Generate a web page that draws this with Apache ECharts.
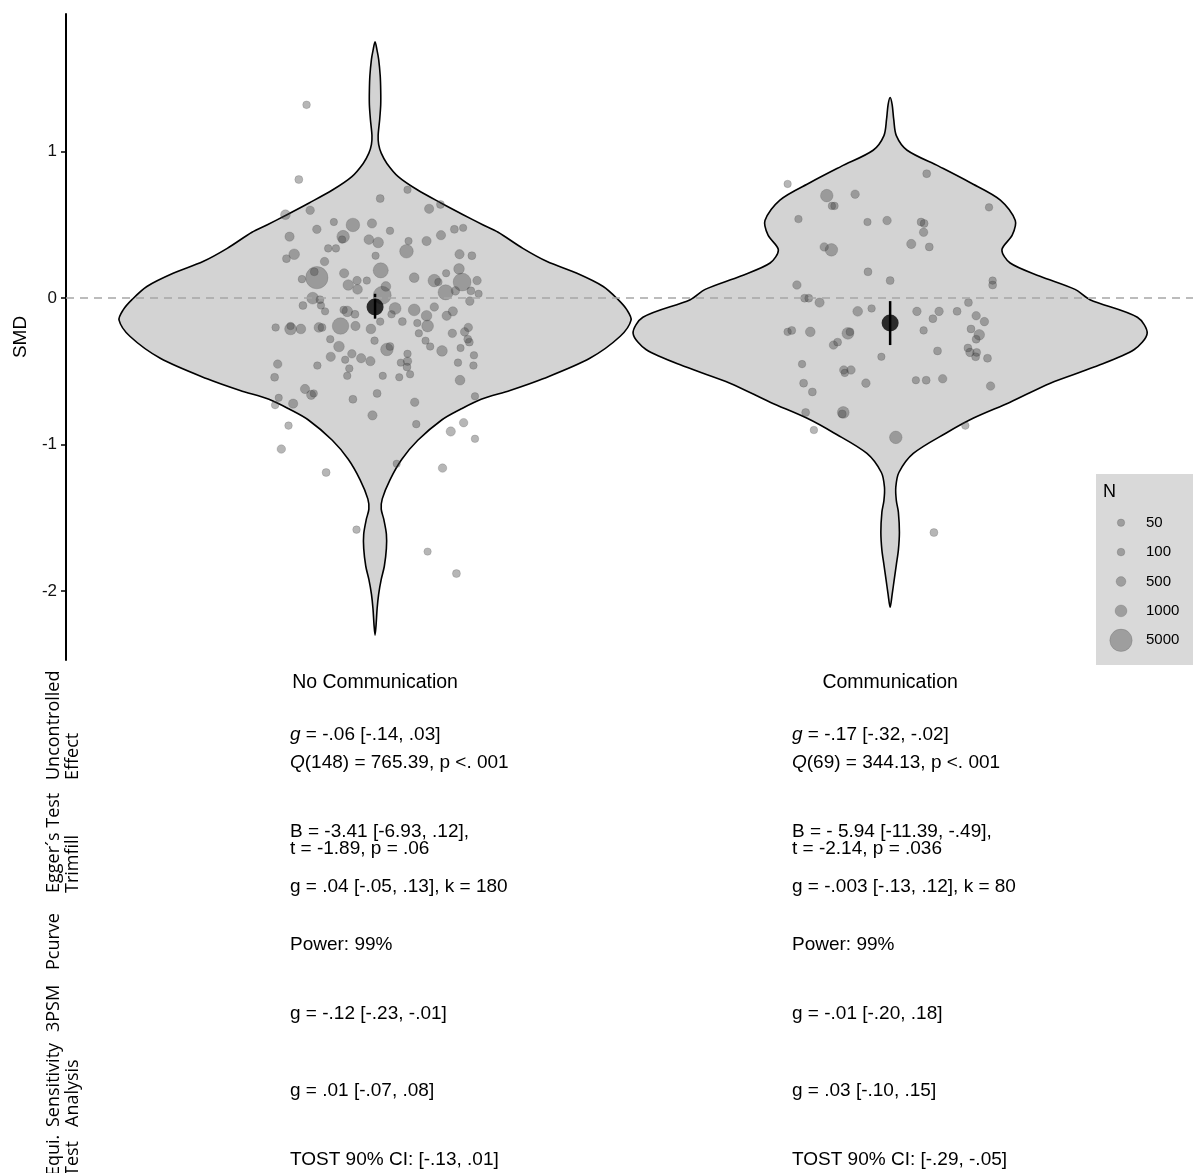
<!DOCTYPE html>
<html>
<head>
<meta charset="utf-8">
<script src="https://cdn.jsdelivr.net/npm/echarts@6/dist/echarts.min.js"></script>
<style>
  html, body { margin: 0; padding: 0; background: #fff; }
  #main { width: 1193px; height: 1173px; }
</style>
</head>
<body>
<div id="main"></div>
<script>
// groups on the x axis
var groups = ['No Communication', 'Communication'];

// pooled effects (mean + 95% CI) per group
var groupMean = [-0.06, -0.17];
var groupLow = [-0.14, -0.32];
var groupHigh = [0.03, -0.02];

// y tick labels
var yTicks = [-2, -1, 0, 1];

// violin outlines: SMD value and half width (in category units)
var noCommViolinY = [1.75, 1.69, 1.63, 1.52, 1.42, 1.32, 1.22, 1.11, 1.05, 0.99, 0.92, 0.83, 0.74, 0.65, 0.57, 0.50, 0.45, 0.34, 0.25, 0.17, 0.08, -0.01, -0.08, -0.15, -0.26, -0.41, -0.55, -0.63, -0.69, -0.76, -0.83, -0.97, -1.10, -1.24, -1.37, -1.44, -1.51, -1.61, -1.71, -1.83, -1.92, -2.02, -2.12, -2.23, -2.30];
var noCommViolinW = [0, 0.004, 0.007, 0.010, 0.011, 0.011, 0.009, 0.006, 0.007, 0.012, 0.023, 0.045, 0.082, 0.128, 0.171, 0.210, 0.239, 0.287, 0.334, 0.392, 0.443, 0.472, 0.489, 0.497, 0.476, 0.417, 0.326, 0.262, 0.206, 0.165, 0.130, 0.083, 0.052, 0.029, 0.014, 0.012, 0.017, 0.022, 0.022, 0.018, 0.012, 0.007, 0.004, 0.002, 0];
var commViolinY = [1.37, 1.32, 1.22, 1.11, 1.01, 0.90, 0.79, 0.67, 0.53, 0.43, 0.33, 0.24, 0.15, 0.06, -0.01, -0.13, -0.24, -0.35, -0.47, -0.58, -0.71, -0.82, -0.92, -1.06, -1.19, -1.29, -1.38, -1.46, -1.60, -1.72, -1.82, -1.92, -2.02, -2.11];
var commViolinW = [0, 0.004, 0.007, 0.012, 0.033, 0.095, 0.155, 0.214, 0.243, 0.237, 0.217, 0.233, 0.291, 0.359, 0.388, 0.480, 0.499, 0.474, 0.396, 0.311, 0.233, 0.161, 0.109, 0.045, 0.017, 0.011, 0.012, 0.016, 0.018, 0.016, 0.012, 0.008, 0.004, 0];

// single studies: [jitter, SMD, N]
var noCommPoints = [
  [-0.133, 1.32, 100], [-0.148, 0.81, 150], [0.063, 0.74, 60], [0.010, 0.68, 150], [0.105, 0.61, 400],
  [0.127, 0.64, 150], [-0.174, 0.57, 500], [-0.126, 0.60, 250], [-0.080, 0.52, 50], [-0.043, 0.50, 1500],
  [-0.006, 0.51, 400], [0.029, 0.46, 80], [-0.113, 0.47, 250], [-0.166, 0.42, 400], [-0.062, 0.42, 1200],
  [-0.064, 0.40, 80], [-0.012, 0.40, 500], [0.006, 0.38, 700], [0.065, 0.39, 50], [0.100, 0.39, 400],
  [0.128, 0.43, 400], [0.154, 0.47, 150], [0.171, 0.48, 60], [-0.091, 0.34, 80], [-0.076, 0.34, 80],
  [0.061, 0.32, 1500], [-0.157, 0.30, 700], [-0.172, 0.27, 150], [0.001, 0.29, 50], [0.164, 0.30, 400],
  [0.188, 0.29, 150], [-0.098, 0.25, 250], [0.011, 0.19, 2000], [-0.113, 0.14, 5000], [-0.118, 0.18, 150],
  [-0.142, 0.13, 80], [-0.060, 0.17, 400], [0.076, 0.14, 500], [0.115, 0.12, 1200], [0.123, 0.11, 80],
  [0.138, 0.17, 50], [0.163, 0.20, 700], [0.169, 0.11, 3000], [0.198, 0.12, 250], [-0.052, 0.09, 700],
  [-0.035, 0.12, 250], [-0.016, 0.12, 60], [-0.034, 0.06, 500], [0.021, 0.08, 500], [0.014, 0.02, 3000],
  [0.137, 0.04, 2000], [0.156, 0.05, 250], [0.186, 0.05, 150], [0.201, 0.03, 60], [-0.121, 0.00, 1000],
  [-0.107, -0.01, 150], [-0.140, -0.05, 150], [-0.105, -0.05, 60], [-0.097, -0.09, 60], [-0.061, -0.08, 80],
  [-0.054, -0.09, 700], [-0.039, -0.11, 150], [0.039, -0.07, 1000], [0.032, -0.11, 80], [0.076, -0.08, 1000],
  [0.100, -0.12, 700], [0.115, -0.06, 250], [0.139, -0.12, 400], [0.151, -0.09, 400], [0.184, -0.02, 250],
  [0.010, -0.16, 80], [0.053, -0.16, 150], [0.082, -0.17, 60], [-0.193, -0.20, 80], [-0.164, -0.19, 80],
  [-0.164, -0.21, 1000], [-0.144, -0.21, 500], [-0.109, -0.20, 500], [-0.103, -0.20, 150], [-0.067, -0.19, 2500],
  [-0.038, -0.19, 400], [-0.008, -0.21, 500], [0.102, -0.19, 1000], [0.085, -0.24, 60], [0.150, -0.24, 250],
  [0.174, -0.23, 250], [0.181, -0.20, 250], [-0.087, -0.28, 80], [-0.001, -0.29, 80], [0.098, -0.29, 50],
  [0.180, -0.28, 150], [0.183, -0.30, 150], [-0.070, -0.33, 700], [0.023, -0.35, 1200], [0.029, -0.33, 150],
  [0.107, -0.33, 80], [0.130, -0.36, 700], [0.166, -0.34, 50], [0.192, -0.39, 80], [-0.086, -0.40, 400],
  [-0.045, -0.38, 250], [-0.027, -0.41, 400], [-0.009, -0.43, 400], [-0.058, -0.42, 60], [0.063, -0.38, 80],
  [0.050, -0.44, 60], [0.063, -0.43, 250], [0.062, -0.47, 150], [0.161, -0.44, 80], [0.191, -0.46, 80],
  [-0.189, -0.45, 250], [-0.112, -0.46, 80], [-0.050, -0.48, 80], [-0.054, -0.53, 80], [-0.195, -0.54, 150],
  [0.015, -0.53, 60], [0.047, -0.54, 50], [0.068, -0.52, 60], [0.165, -0.56, 500], [-0.136, -0.62, 400],
  [-0.124, -0.66, 400], [-0.119, -0.65, 60], [-0.187, -0.68, 50], [-0.194, -0.73, 80], [-0.159, -0.72, 400],
  [-0.043, -0.69, 150], [0.004, -0.65, 150], [0.077, -0.71, 250], [0.194, -0.67, 60], [-0.005, -0.80, 400],
  [0.080, -0.86, 80], [-0.168, -0.87, 80], [0.172, -0.85, 250], [0.147, -0.91, 400], [0.194, -0.96, 80],
  [-0.182, -1.03, 250], [-0.095, -1.19, 150], [0.042, -1.13, 50], [0.131, -1.16, 250], [-0.036, -1.58, 80],
  [0.102, -1.73, 50], [0.158, -1.88, 150]
];
var commPoints = [
  [-0.199, 0.78, 60], [0.071, 0.85, 150], [-0.123, 0.70, 1200], [-0.113, 0.63, 80], [-0.108, 0.63, 80],
  [-0.068, 0.71, 250], [0.192, 0.62, 80], [-0.178, 0.54, 80], [-0.044, 0.52, 60], [-0.006, 0.53, 250],
  [0.060, 0.52, 150], [0.066, 0.51, 150], [0.065, 0.45, 250], [-0.128, 0.35, 250], [-0.114, 0.33, 1200],
  [0.041, 0.37, 400], [0.076, 0.35, 150], [-0.043, 0.18, 150], [0.000, 0.12, 150], [-0.181, 0.09, 250],
  [0.199, 0.12, 80], [0.199, 0.09, 150], [-0.166, 0.00, 150], [-0.158, 0.00, 150], [-0.137, -0.03, 400],
  [-0.063, -0.09, 500], [-0.036, -0.07, 80], [0.052, -0.09, 250], [0.083, -0.14, 150], [0.095, -0.09, 250],
  [0.130, -0.09, 150], [0.152, -0.03, 150], [0.167, -0.12, 250], [0.183, -0.16, 250], [-0.199, -0.23, 80],
  [-0.191, -0.22, 150], [-0.155, -0.23, 500], [-0.082, -0.24, 1000], [-0.078, -0.23, 150], [-0.110, -0.32, 250],
  [-0.102, -0.30, 150], [0.065, -0.22, 80], [0.157, -0.21, 150], [0.173, -0.25, 700], [0.167, -0.28, 150],
  [0.151, -0.34, 150], [0.155, -0.37, 250], [0.168, -0.37, 150], [0.166, -0.40, 150], [0.189, -0.41, 150],
  [0.092, -0.36, 150], [-0.017, -0.40, 60], [-0.171, -0.45, 80], [-0.090, -0.49, 250], [-0.076, -0.49, 250],
  [-0.088, -0.51, 80], [-0.168, -0.58, 150], [-0.151, -0.64, 150], [-0.047, -0.58, 250], [0.050, -0.56, 60],
  [0.070, -0.56, 150], [0.102, -0.55, 250], [0.195, -0.60, 250], [-0.164, -0.78, 150], [-0.091, -0.78, 1000],
  [-0.093, -0.79, 150], [-0.148, -0.90, 80], [0.011, -0.95, 1200], [0.146, -0.87, 80], [0.085, -1.60, 150]
];

// size legend
var legendBreaks = [50, 100, 500, 1000, 5000];

// text table under the plot
var rowLabels = ['Uncontrolled\nEffect', 'Egger\u00b4s Test\nTrimfill', 'Pcurve', '3PSM', 'Sensitivity\nAnalysis', 'Equi.\nTest'];
var noCommStats = [
  '{i|g} = -.06 [-.14, .03]',
  '{i|Q}(148) = 765.39, p <. 001',
  'B = -3.41 [-6.93, .12],\nt = -1.89, p = .06',
  'g = .04 [-.05, .13], k = 180',
  'Power: 99%',
  'g = -.12 [-.23, -.01]',
  'g = .01 [-.07, .08]',
  'TOST 90% CI: [-.13, .01]'
];
var commStats = [
  '{i|g} = -.17 [-.32, -.02]',
  '{i|Q}(69) = 344.13, p <. 001',
  'B = - 5.94 [-11.39, -.49],\nt = -2.14, p = .036',
  'g = -.003 [-.13, .12], k = 80',
  'Power: 99%',
  'g = -.01 [-.20, .18]',
  'g = .03 [-.10, .15]',
  'TOST 90% CI: [-.29, -.05]'
];

// layout of the table (pixels)
var statColX = [290, 792];
var statRowY = [735, 763, 840, 887, 945, 1014, 1091, 1160];
var rowLabelBottom = [780, 893, 970, 1032, 1127, 1176];

var sansFont = '"Liberation Sans", Arial, sans-serif';
var pointColor = 'rgba(60,60,60,0.47)';
function sizeOf(n) { return 0.3 * Math.sqrt(n + 560); }

var violins = [
  { y: noCommViolinY, w: noCommViolinW },
  { y: commViolinY, w: commViolinW }
];

function toScatter(points, center) {
  return points.map(function (p) { return [center + p[0], p[1], p[2]]; });
}

var graphics = [
  { type: 'rect', z: 0, shape: { x: 1096, y: 474, width: 97, height: 191 }, style: { fill: '#d9d9d9' } },
  { type: 'text', z: 10, x: 1103, y: 492, style: { text: 'N', fontSize: 18, fontFamily: sansFont, fill: '#000', verticalAlign: 'middle', textVerticalAlign: 'middle' } }
];
rowLabels.forEach(function (t, i) {
  graphics.push({
    type: 'text', x: 44, y: rowLabelBottom[i], rotation: Math.PI / 2,
    style: { text: t, fontSize: 18, fontFamily: '"Open Sans", sans-serif', fill: '#000', lineHeight: 19,
      align: 'left', textAlign: 'left', verticalAlign: 'top', textVerticalAlign: 'top' }
  });
});
[noCommStats, commStats].forEach(function (col, c) {
  col.forEach(function (t, i) {
    graphics.push({
      type: 'text', x: statColX[c], y: statRowY[i],
      style: { text: t, fontSize: 19, fontFamily: sansFont, fill: '#000', lineHeight: 17,
        align: 'left', textAlign: 'left', verticalAlign: 'middle', textVerticalAlign: 'middle',
        rich: { i: { fontStyle: 'italic', fontSize: 19, fontFamily: sansFont, fill: '#000' } } }
    });
  });
});

var myChart = echarts.init(document.getElementById('main'));
var option = {
  animation: false,
  backgroundColor: '#fff',
  grid: [
    { left: 66, right: 0, top: 14, bottom: 513, outerBoundsMode: 'none', containLabel: false },
    { left: 1110, width: 22, top: 508, height: 147, outerBoundsMode: 'none', containLabel: false }
  ],
  xAxis: [
    {
      type: 'value', gridIndex: 0, min: 0.4, max: 2.588,
      axisLine: { show: false }, axisTick: { show: false }, splitLine: { show: false },
      axisLabel: {
        customValues: [1, 2], margin: 13, fontSize: 19.5, fontFamily: sansFont, color: '#000',
        formatter: function (v) { return groups[Math.round(v) - 1]; }
      }
    },
    { type: 'value', gridIndex: 1, min: 0, max: 1, show: false }
  ],
  yAxis: [
    {
      type: 'value', gridIndex: 0, min: -2.47, max: 1.94,
      name: 'SMD', nameLocation: 'middle', nameGap: 36,
      nameTextStyle: { fontSize: 19, fontFamily: sansFont, color: '#000' },
      axisLine: { show: true, lineStyle: { color: '#000', width: 2 } },
      axisTick: { show: true, length: 5, customValues: yTicks, lineStyle: { color: '#000', width: 1.5 } },
      axisLabel: { customValues: yTicks, margin: 9, fontSize: 17, fontFamily: sansFont, color: '#111' },
      splitLine: { show: false }
    },
    {
      type: 'category', gridIndex: 1, inverse: true, position: 'right',
      data: legendBreaks.map(String),
      axisLine: { show: false }, axisTick: { show: false }, splitLine: { show: false },
      axisLabel: { margin: 14, fontSize: 15, fontFamily: sansFont, color: '#000', align: 'left' }
    }
  ],
  graphic: { elements: graphics },
  series: [
    {
      type: 'custom', name: 'violin', z: 1, xAxisIndex: 0, yAxisIndex: 0,
      data: [[1, 0], [2, 0]],
      encode: { x: 0, y: 1 },
      renderItem: function (params, api) {
        var v = violins[params.dataIndex];
        var c = api.value(0);
        var pts = [];
        for (var i = 0; i < v.y.length; i++) pts.push(api.coord([c + v.w[i], v.y[i]]));
        for (var j = v.y.length - 2; j >= 1; j--) pts.push(api.coord([c - v.w[j], v.y[j]]));
        return {
          type: 'polygon',
          shape: { points: pts, smooth: 0.3 },
          style: { fill: '#d3d3d3', stroke: '#000', lineWidth: 1.6 }
        };
      }
    },
    {
      type: 'line', name: 'zero', z: 2, data: [],
      markLine: {
        silent: true, symbol: ['none', 'none'], label: { show: false },
        lineStyle: { type: [8, 6], color: '#a6a6a6', width: 1.6 },
        data: [{ yAxis: 0 }]
      }
    },
    {
      type: 'scatter', name: groups[0], z: 3,
      data: toScatter(noCommPoints, 1),
      symbolSize: function (d) { return sizeOf(d[2]); },
      itemStyle: { color: pointColor, borderColor: 'rgba(60,60,60,0.3)', borderWidth: 0.8 }
    },
    {
      type: 'scatter', name: groups[1], z: 3,
      data: toScatter(commPoints, 2),
      symbolSize: function (d) { return sizeOf(d[2]); },
      itemStyle: { color: pointColor, borderColor: 'rgba(60,60,60,0.3)', borderWidth: 0.8 }
    },
    {
      type: 'custom', name: 'ci', z: 4,
      data: groups.map(function (g, i) { return [i + 1, groupLow[i], groupHigh[i]]; }),
      renderItem: function (params, api) {
        var a = api.coord([api.value(0), api.value(1)]);
        var b = api.coord([api.value(0), api.value(2)]);
        return { type: 'line', shape: { x1: a[0], y1: a[1], x2: b[0], y2: b[1] }, style: { stroke: '#000', lineWidth: 2.5 } };
      }
    },
    {
      type: 'scatter', name: 'mean', z: 5,
      data: groups.map(function (g, i) { return [i + 1, groupMean[i]]; }),
      symbolSize: 17,
      itemStyle: { color: '#000' }
    },
    {
      type: 'scatter', name: 'legend', z: 5, xAxisIndex: 1, yAxisIndex: 1,
      data: legendBreaks.map(function (n, i) { return [0.5, i, n]; }),
      symbolSize: function (d) { return sizeOf(d[2]); },
      itemStyle: { color: pointColor, borderColor: 'rgba(60,60,60,0.3)', borderWidth: 0.8 }
    }
  ]
};
myChart.setOption(option);
</script>
</body>
</html>
